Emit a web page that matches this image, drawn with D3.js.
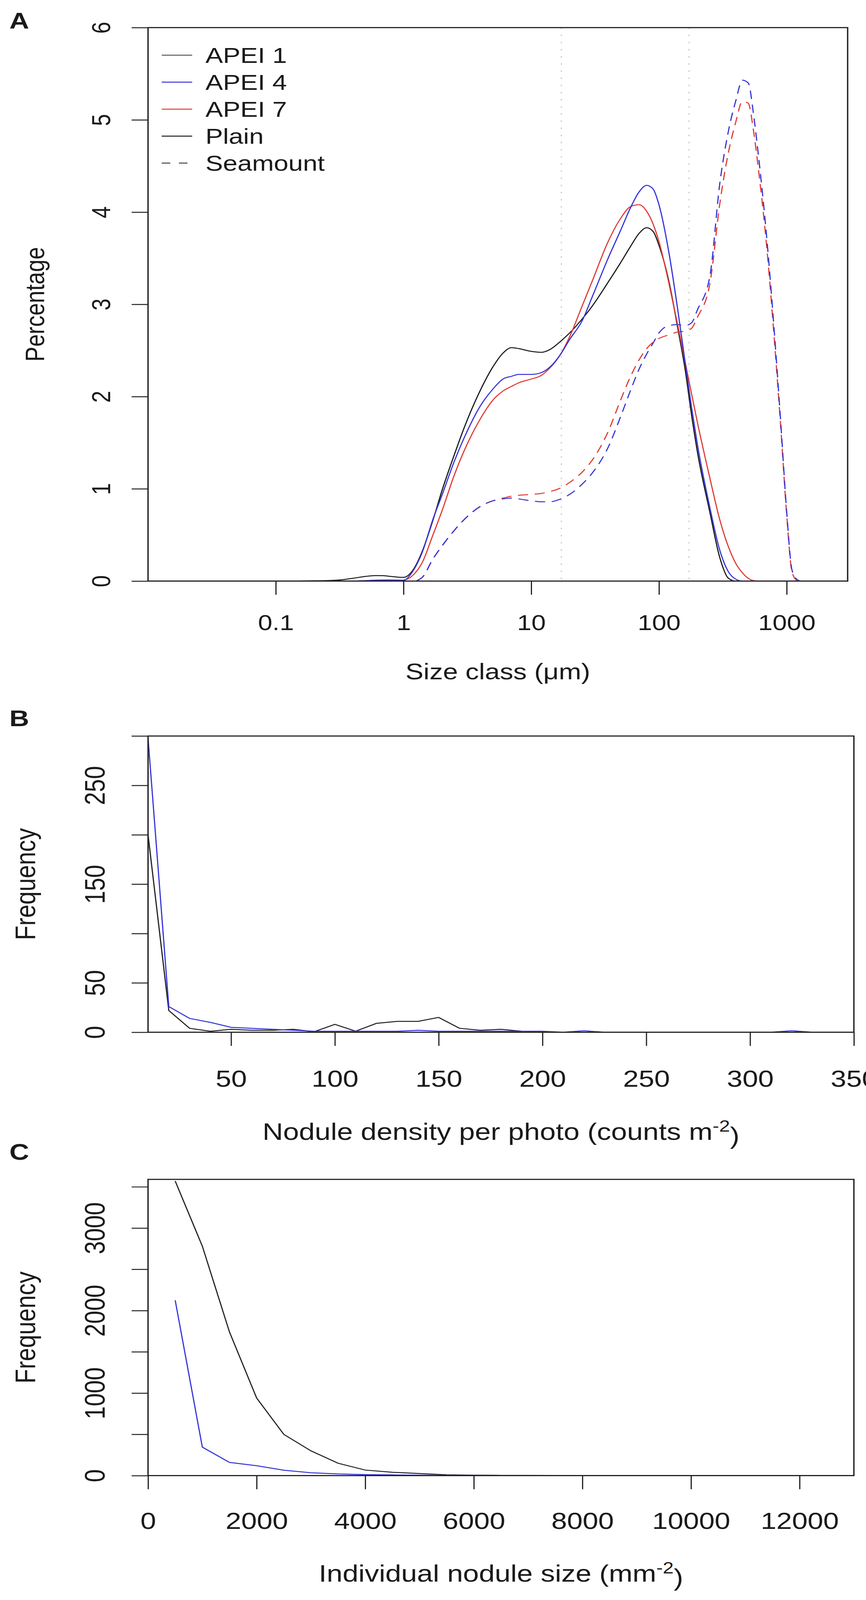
<!DOCTYPE html>
<html>
<head>
<meta charset="utf-8">
<script src="https://cdn.jsdelivr.net/npm/d3@7"></script>
<style>
  html, body { margin: 0; padding: 0; background: #fff; overflow: hidden; }
  svg { display: block; }
  text { font-family: "Liberation Sans", Arial, Helvetica, sans-serif; fill: #1a1a1a; }
</style>
</head>
<body>
<div id="vis"></div>
<script>
// ---- panel A : grain size distributions (size class in um, percentage) ----
var sizeClasses = [0.01, 0.1, 0.2, 0.3, 0.4, 0.5, 0.6, 0.7, 0.8, 1,
  1.2, 1.4, 1.7, 2, 2.5, 3, 4, 5, 6, 7,
  8, 10, 12, 14, 17, 20, 25, 30, 40, 50,
  60, 70, 80, 90, 100, 120, 140, 160, 180, 200,
  250, 300, 350, 400, 450, 500, 550, 600, 700, 800,
  900, 1000, 1100, 1200, 1300, 2000, 3000];

var apei1Plain = [0, 0, 0.003, 0.01, 0.03, 0.05, 0.06, 0.058, 0.05, 0.04,
  0.13, 0.32, 0.66, 0.98, 1.37, 1.67, 2.07, 2.32, 2.47, 2.53,
  2.52, 2.49, 2.48, 2.51, 2.60, 2.69, 2.84, 2.98, 3.24, 3.45,
  3.63, 3.77, 3.83, 3.79, 3.64, 3.24, 2.75, 2.30, 1.80, 1.40,
  0.75, 0.25, 0.03, 0, 0, 0, 0, 0, 0, 0,
  0, 0, 0, 0, 0, 0, 0];

var apei4Plain = [0, 0, 0, 0, 0, 0.005, 0.01, 0.012, 0.012, 0.01,
  0.12, 0.31, 0.67, 0.93, 1.30, 1.56, 1.90, 2.08, 2.19, 2.22,
  2.24, 2.24, 2.26, 2.32, 2.46, 2.62, 2.82, 3.08, 3.50, 3.80,
  4.05, 4.22, 4.29, 4.25, 4.08, 3.55, 2.95, 2.38, 1.88, 1.48,
  0.80, 0.33, 0.10, 0.02, 0, 0, 0, 0, 0, 0,
  0, 0, 0, 0, 0, 0, 0];

var apei7Plain = [0, 0, 0, 0, 0, 0.005, 0.008, 0.008, 0.006, 0.01,
  0.07, 0.20, 0.50, 0.76, 1.15, 1.42, 1.76, 1.96, 2.06, 2.11,
  2.15, 2.19, 2.23, 2.31, 2.46, 2.65, 2.98, 3.25, 3.68, 3.93,
  4.06, 4.08, 4.01, 3.87, 3.68, 3.22, 2.78, 2.38, 2.03, 1.72,
  1.12, 0.66, 0.37, 0.19, 0.09, 0.03, 0.005, 0, 0, 0,
  0, 0, 0, 0, 0, 0, 0];

var apei4Seamount = [0, 0, 0, 0, 0, 0, 0, 0, 0, 0,
  0, 0.04, 0.24, 0.38, 0.55, 0.67, 0.81, 0.87, 0.89, 0.90,
  0.89, 0.87, 0.86, 0.86, 0.89, 0.94, 1.05, 1.17, 1.45, 1.78,
  2.07, 2.30, 2.46, 2.58, 2.69, 2.77, 2.78, 2.77, 2.80, 2.94,
  3.30, 4.32, 4.88, 5.21, 5.43, 5.40, 5.06, 4.62, 3.70, 2.70,
  1.70, 0.75, 0.12, 0.02, 0, 0, 0];

var apei7Seamount = [0, 0, 0, 0, 0, 0, 0, 0, 0, 0,
  0, 0.04, 0.24, 0.38, 0.55, 0.67, 0.81, 0.87, 0.90, 0.92,
  0.93, 0.94, 0.95, 0.97, 1.01, 1.07, 1.18, 1.31, 1.62, 1.96,
  2.22, 2.40, 2.52, 2.59, 2.63, 2.67, 2.70, 2.71, 2.74, 2.86,
  3.22, 4.10, 4.65, 4.98, 5.20, 5.18, 4.88, 4.47, 3.60, 2.62,
  1.65, 0.72, 0.10, 0.01, 0, 0, 0];

var sizeBoundaries = [17.2, 172];
var sizeTicks = [0.1, 1, 10, 100, 1000];
var percentTicks = [0, 1, 2, 3, 4, 5, 6];

var legendLabels = ["APEI 1", "APEI 4", "APEI 7", "Plain", "Seamount"];

// ---- panel B : nodule density per photo ----
var densityBins = [10, 20, 30, 40, 50, 60, 70, 80, 90, 100,
  110, 120, 130, 140, 150, 160, 170, 180, 190, 200,
  210, 220, 230, 240, 250, 260, 270, 280, 290, 300,
  310, 320, 330, 340, 350];
var apei1Density = [200, 22, 4, 1, 3, 2, 2, 3, 0.5, 8,
  1, 9, 11, 11, 15, 4, 2, 3, 1, 0,
  0, 0, 0, 0, 0, 0, 0, 0, 0, 0,
  0, 0, 0, 0, 0];
var apei4Density = [298, 26, 14, 10, 5, 4, 3, 2, 1, 1,
  1, 1, 1, 2, 1, 1, 1, 1, 1, 1,
  0, 1.5, 0, 0, 0, 0, 0, 0, 0, 0,
  0, 1.5, 0, 0, 0];
var densityTicks = [50, 100, 150, 200, 250, 300, 350];
var freqTicksB = [0, 50, 100, 150, 200, 250, 300];
var freqLabelsB = [0, 50, 150, 250];

// ---- panel C : individual nodule size ----
var noduleBins = [500, 1000, 1500, 2000, 2500, 3000, 3500, 4000, 4500, 5000,
  5500, 6000, 6500, 7000, 7500, 8000, 8500, 9000, 9500, 10000,
  10500, 11000, 11500, 12000, 12500, 13000];
var apei1Nodules = [3570, 2780, 1740, 940, 500, 300, 150, 67, 40, 25,
  10, 5, 3, 2, 1, 0, 0, 0, 0, 0,
  0, 0, 0, 0, 0, 0];
var apei4Nodules = [2125, 345, 160, 120, 65, 35, 20, 12, 8, 5,
  3, 2, 1, 1, 0, 0, 0, 0, 0, 0,
  0, 0, 0, 0, 0, 0];
var noduleTicks = [0, 2000, 4000, 6000, 8000, 10000, 12000];
var freqTicksC = [0, 500, 1000, 1500, 2000, 2500, 3000, 3500];
var freqLabelsC = [0, 1000, 2000, 3000];

// ---- drawing ----
// the figure is laid out on a 2217 x 4926 board, stretched to whatever the window gives
var width = 2217;
var height = 4926;
var viewW = document.documentElement.clientWidth || window.innerWidth || width;
var viewH = document.documentElement.clientHeight || window.innerHeight || height;
var black = "#1a1a1a";
var blue = "#3434d8";
var red = "#e03a34";

var canvas = d3.select("#vis")
        .append("svg")
        .attr("width", viewW)
        .attr("height", viewH)
        .attr("viewBox", "0 0 " + width + " " + height)
        .attr("preserveAspectRatio", "none")
        .style("background-color", "#fff");

var defs = canvas.append("defs");

function clipFor(id, box) {
  defs.append("clipPath").attr("id", id)
    .append("rect")
      .attr("x", box.left)
      .attr("y", box.top)
      .attr("width", box.right - box.left)
      .attr("height", box.bottom - box.top);
  return "url(#" + id + ")";
}

function styleAxis(g, fs) {
  g.select(".domain").remove();
  g.attr("font-family", null).attr("font-size", null);
  g.selectAll(".tick line").attr("stroke", "#222").attr("stroke-width", 3);
  g.selectAll(".tick text").attr("fill", black).style("font-size", fs + "px");
}

function bottomAxis(scale, ticks, box, fs, off, fmt) {
  var g = canvas.append("g")
      .attr("transform", "translate(0," + box.bottom + ")")
      .call(d3.axisBottom(scale).tickValues(ticks).tickSize(42)
        .tickPadding(off - 0.355 * fs - 42).tickFormat(fmt));
  styleAxis(g, fs);
}

function leftAxis(scale, ticks, labels, box, fs, off) {
  var g = canvas.append("g")
      .attr("transform", "translate(" + box.left + ",0)")
      .call(d3.axisLeft(scale).tickValues(ticks).tickSize(42)
        .tickFormat(function(d) { return labels.indexOf(d) >= 0 ? String(d) : ""; }));
  styleAxis(g, fs);
  g.selectAll(".tick text")
      .attr("transform", "rotate(-90)")
      .attr("x", 0)
      .attr("y", -off)
      .attr("dy", "0.35em")
      .attr("text-anchor", "middle");
}

function frame(box) {
  canvas.append("rect")
      .attr("x", box.left)
      .attr("y", box.top)
      .attr("width", box.right - box.left)
      .attr("height", box.bottom - box.top)
      .attr("fill", "none")
      .attr("stroke", "#222")
      .attr("stroke-width", 3.5);
}

function yTitle(txt, x, box, fs) {
  canvas.append("text")
      .attr("transform", "translate(" + x + "," + (box.top + box.bottom) / 2 + ") rotate(-90)")
      .attr("text-anchor", "middle")
      .attr("dy", "0.35em")
      .style("font-size", fs + "px")
      .text(txt);
}

function xTitle(box, y, fs) {
  return canvas.append("text")
      .attr("x", (box.left + box.right) / 2)
      .attr("y", y)
      .attr("dy", "0.35em")
      .attr("text-anchor", "middle")
      .style("font-size", fs + "px");
}

function panelLetter(txt, y) {
  canvas.append("text")
      .attr("x", 24)
      .attr("y", y)
      .style("font-size", "70px")
      .style("font-weight", "bold")
      .text(txt);
}

// ======== Panel A ========
var boxA = {left: 379, right: 2170, top: 85, bottom: 1789};
var xA = d3.scaleLog().domain([0.01, 3000]).range([boxA.left, boxA.right]);
var yA = d3.scaleLinear().domain([0, 6]).range([boxA.bottom, boxA.top]);
var clipA = clipFor("clipA", boxA);

canvas.append("g").attr("clip-path", clipA)
  .selectAll("line.bound")
  .data(sizeBoundaries)
  .enter().append("line")
    .attr("x1", function(d) { return xA(d); })
    .attr("x2", function(d) { return xA(d); })
    .attr("y1", boxA.top)
    .attr("y2", boxA.bottom)
    .attr("stroke", "#c4c4c4")
    .attr("stroke-width", 3)
    .attr("stroke-dasharray", "4,18");

var seriesA = [
  {values: apei1Plain, color: black, dash: null},
  {values: apei7Seamount, color: red, dash: "26,17"},
  {values: apei4Seamount, color: blue, dash: "26,17"},
  {values: apei7Plain, color: red, dash: null},
  {values: apei4Plain, color: blue, dash: null}
];

var lineA = d3.line()
    .x(function(d) { return xA(d[0]); })
    .y(function(d) { return yA(d[1]); })
    .curve(d3.curveMonotoneX);

canvas.append("g").attr("clip-path", clipA)
  .selectAll("path")
  .data(seriesA)
  .enter().append("path")
    .attr("d", function(s) { return lineA(d3.zip(sizeClasses, s.values)); })
    .attr("fill", "none")
    .attr("stroke", function(s) { return s.color; })
    .attr("stroke-width", 3)
    .attr("stroke-dasharray", function(s) { return s.dash; });

leftAxis(yA, percentTicks, percentTicks, boxA, 66, 120);
bottomAxis(xA, sizeTicks, boxA, 66, 127, function(d) { return String(d); });
frame(boxA);

var legendColors = ["#5a5a5a", blue, red, black, "#444"];
var legendDash = [null, null, null, null, "22,22"];
var legend = canvas.append("g")
  .selectAll("g")
  .data(legendLabels)
  .enter().append("g")
    .attr("transform", function(d, i) { return "translate(414," + (170 + i * 83) + ")"; });

legend.append("line")
    .attr("x1", 0)
    .attr("x2", 78)
    .attr("stroke", function(d, i) { return legendColors[i]; })
    .attr("stroke-width", 3)
    .attr("stroke-dasharray", function(d, i) { return legendDash[i]; });

legend.append("text")
    .attr("x", 112)
    .attr("dy", "0.36em")
    .style("font-size", "67px")
    .text(function(d) { return d; });

yTitle("Percentage", 89, boxA, 69);
xTitle(boxA, 2067, 69).text("Size class (\u03bcm)");
panelLetter("A", 88);

// ======== Panel B ========
var boxB = {left: 379, right: 2186, top: 2266, bottom: 3178};
var xB = d3.scaleLinear().domain([10, 350]).range([boxB.left, boxB.right]);
var yB = d3.scaleLinear().domain([0, 300]).range([boxB.bottom, boxB.top]);
var clipB = clipFor("clipB", boxB);

var lineB = d3.line()
    .x(function(d) { return xB(d[0]); })
    .y(function(d) { return yB(d[1]); });

canvas.append("g").attr("clip-path", clipB)
  .selectAll("path")
  .data([{values: apei1Density, color: "#222"}, {values: apei4Density, color: blue}])
  .enter().append("path")
    .attr("d", function(s) { return lineB(d3.zip(densityBins, s.values)); })
    .attr("fill", "none")
    .attr("stroke", function(s) { return s.color; })
    .attr("stroke-width", 3);

leftAxis(yB, freqTicksB, freqLabelsB, boxB, 72, 136);
bottomAxis(xB, densityTicks, boxB, 72, 142, function(d) { return String(d); });
frame(boxB);

yTitle("Frequency", 64, boxB, 73);
var tB = xTitle(boxB, 3484, 73);
tB.append("tspan").text("Nodule density per photo (counts m");
tB.append("tspan").attr("dy", "-0.5em").style("font-size", "50px").text("-2");
tB.append("tspan").attr("dy", "0.5em").style("font-size", "73px").text(")");
panelLetter("B", 2236);

// ======== Panel C ========
var boxC = {left: 379, right: 2186, top: 3631, bottom: 4543};
var xC = d3.scaleLinear().domain([0, 13000]).range([boxC.left, boxC.right]);
var yC = d3.scaleLinear().domain([0, 3590]).range([boxC.bottom, boxC.top]);
var clipC = clipFor("clipC", boxC);

var lineC = d3.line()
    .x(function(d) { return xC(d[0]); })
    .y(function(d) { return yC(d[1]); });

canvas.append("g").attr("clip-path", clipC)
  .selectAll("path")
  .data([{values: apei1Nodules, color: "#222"}, {values: apei4Nodules, color: blue}])
  .enter().append("path")
    .attr("d", function(s) { return lineC(d3.zip(noduleBins, s.values)); })
    .attr("fill", "none")
    .attr("stroke", function(s) { return s.color; })
    .attr("stroke-width", 3);

leftAxis(yC, freqTicksC, freqLabelsC, boxC, 72, 136);
bottomAxis(xC, noduleTicks, boxC, 72, 138, function(d) { return String(d); });
frame(boxC);

yTitle("Frequency", 64, boxC, 73);
var tC = xTitle(boxC, 4844, 73);
tC.append("tspan").text("Individual nodule size (mm");
tC.append("tspan").attr("dy", "-0.5em").style("font-size", "50px").text("-2");
tC.append("tspan").attr("dy", "0.5em").style("font-size", "73px").text(")");
panelLetter("C", 3571);
</script>
</body>
</html>
